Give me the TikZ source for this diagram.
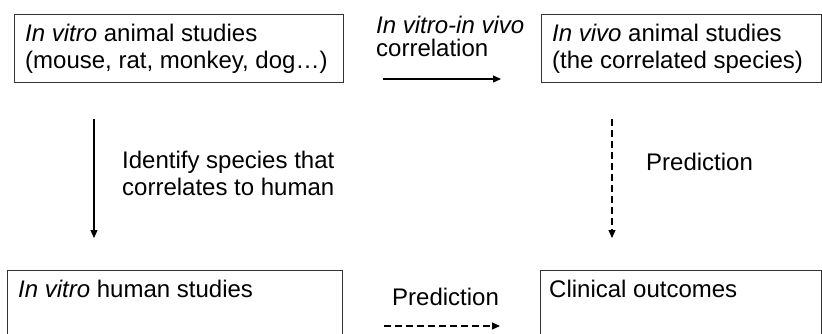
\documentclass[tikz,border=0pt]{standalone}
\usepackage{fontspec}
\setmainfont{Liberation Sans}
\usetikzlibrary{arrows.meta}
\begin{document}
\begin{tikzpicture}[
  box/.style={draw=black!80, line width=1pt, rectangle, inner sep=0pt, anchor=north west},
  txt/.style={inner sep=0pt, anchor=base west, font=\fontsize{24pt}{28pt}\selectfont},
  arr/.style={black, line width=1.1pt, -{Triangle[length=8pt,width=7pt]}},
  darr/.style={arr, dash pattern=on 7pt off 4pt}
]
\useasboundingbox (0pt,0pt) rectangle (822pt,-333pt);
\clip (0pt,0pt) rectangle (822pt,-333pt);
% boxes
\node[box, minimum width=329pt, minimum height=68pt] (A) at (14pt,-14pt) {};
\node[box, minimum width=280pt, minimum height=68pt] (B) at (541pt,-14pt) {};
\node[box, minimum width=335pt, minimum height=80pt] (C) at (7pt,-270pt) {};
\node[box, minimum width=281pt, minimum height=80pt] (D) at (540pt,-270pt) {};
% box texts
\node[txt] (a1) at (25pt,-41pt) {\textit{In vitro} animal studies};
\node[txt] (a2) at (25pt,-68pt) {(mouse, rat, monkey, dog…)};
\node[txt] (b1) at (552pt,-41pt) {\textit{In vivo} animal studies};
\node[txt] (b2) at (552pt,-68pt) {(the correlated species)};
\node[txt] (c1) at (18pt,-297pt) {\textit{In vitro} human studies};
\node[txt] (d1) at (549pt,-297pt) {Clinical outcomes};
% labels
\node[txt] (l1) at (376pt,-33pt) {\textit{In vitro-in vivo}};
\node[txt] (l2) at (376pt,-56pt) {correlation};
\node[txt] (l3) at (122pt,-168pt) {Identify species that};
\node[txt] (l4) at (122pt,-195pt) {correlates to human};
\node[txt] (l5) at (646pt,-170pt) {Prediction};
\node[txt] (l6) at (392pt,-305pt) {Prediction};
% connectors
\draw[arr] ([shift={(39pt,4pt)}]A.south east) -- ([shift={(-40pt,4pt)}]B.south west);
\draw[arr] ([shift={(80pt,-36pt)}]A.south west) -- ([shift={(87pt,32pt)}]C.north west);
\draw[darr] ([shift={(71pt,-36pt)}]B.south west) -- ([shift={(72pt,32pt)}]D.north west);
\draw[darr] ([shift={(41pt,-56pt)}]C.north east) -- ([shift={(-40pt,-56pt)}]D.north west);
\end{tikzpicture}
\end{document}
